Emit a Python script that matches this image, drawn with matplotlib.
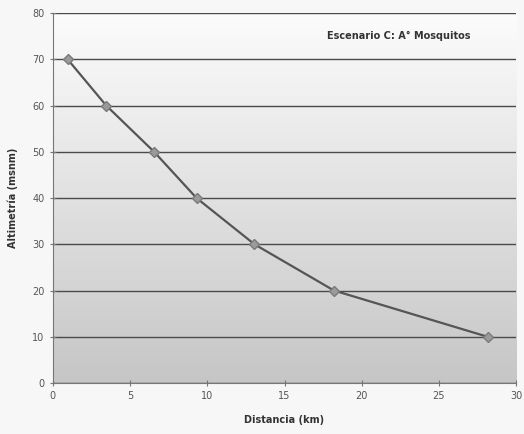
import numpy as np
import matplotlib
matplotlib.use("Agg")
import matplotlib.pyplot as plt

# distancia (km) vs altimetria (msnm)
distancia = [0.95, 3.45, 6.55, 9.3, 13.05, 18.2, 28.15]
altimetria = [70, 60, 50, 40, 30, 20, 10]

fig = plt.figure(figsize=(5.24, 4.34), dpi=100)
fig.patch.set_facecolor("#f7f7f7")
ax = fig.add_axes([0.101, 0.1175, 0.884, 0.8525])

# gradient background, white on top to grey at the bottom
grad = np.linspace(0, 1, 256).reshape(-1, 1)
ax.imshow(grad, extent=[0, 1, 0, 1], transform=ax.transAxes, aspect="auto",
          cmap=matplotlib.colors.LinearSegmentedColormap.from_list("g", ["#c6c6c6", "#fcfcfc"]),
          origin="lower", zorder=0)

ax.set_xlim(0, 30)
ax.set_ylim(0, 80)
ax.set_xticks(range(0, 31, 5))
ax.set_yticks(range(0, 81, 10))
ax.grid(axis="y", color="#4a4a4a", linewidth=1.0, zorder=1)
ax.set_axisbelow(False)

ax.plot(distancia, altimetria, color="#555555", linewidth=1.6, marker="D",
        markersize=5.5, markerfacecolor="#9a9a9a", markeredgecolor="#7a7a7a", zorder=3)

for s in ["top", "right"]:
    ax.spines[s].set_visible(False)
for s in ["left", "bottom"]:
    ax.spines[s].set_color("#777777")
ax.tick_params(direction="inout", length=5, color="#777777", labelsize=7, labelcolor="#555555")

ax.set_xlabel("Distancia (km)", fontsize=7, fontweight="bold", color="#333333", labelpad=10)
ax.set_ylabel("Altimetría (msnm)", fontsize=7, fontweight="bold", color="#333333", labelpad=10)
ax.text(22.4, 75, "Escenario C: A° Mosquitos", fontsize=7, fontweight="bold",
        color="#333333", ha="center", va="center")

fig.savefig("out.png", dpi=100, facecolor=fig.get_facecolor())
